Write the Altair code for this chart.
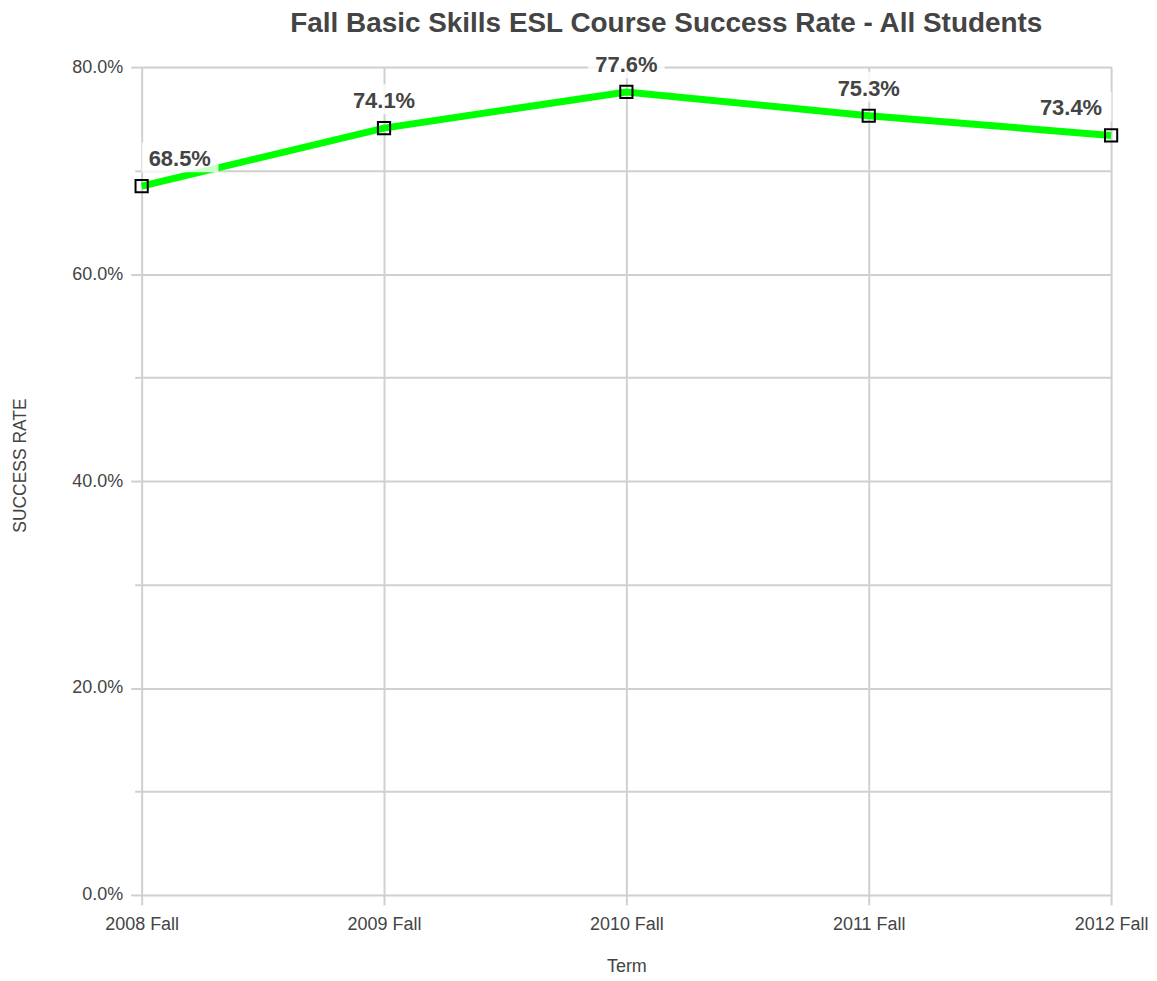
import altair as alt
import pandas as pd

terms = ["2008 Fall", "2009 Fall", "2010 Fall", "2011 Fall", "2012 Fall"]
rates = [0.685, 0.741, 0.776, 0.753, 0.734]
labels = ["68.5%", "74.1%", "77.6%", "75.3%", "73.4%"]
pos = ["left", "center", "center", "center", "right"]

df = pd.DataFrame({"term": terms, "rate": rates, "label": labels, "pos": pos})

FONT = "Liberation Sans"

x = alt.X("term:N", sort=terms, title="Term",
          scale=alt.Scale(type="point", padding=0),
          axis=alt.Axis(labelAngle=0, grid=True, gridColor="#d0d0d0", gridWidth=2,
                        tickColor="#d0d0d0", tickWidth=2, tickSize=10, domain=False,
                        labelFontSize=18, labelColor="#444", labelPadding=11,
                        titleFontSize=18, titleColor="#444", titleFontWeight="normal",
                        titlePadding=24, labelFont=FONT, titleFont=FONT))
y = alt.Y("rate:Q", title="SUCCESS RATE",
          scale=alt.Scale(domain=[0, 0.8], nice=False, zero=True),
          axis=alt.Axis(values=[0, 0.1, 0.2, 0.3, 0.4, 0.5, 0.6, 0.7, 0.8],
                        labelExpr="round(datum.value*10) % 2 == 0 ? format(datum.value, '.1%') : ''",
                        grid=True, gridColor="#d0d0d0", gridWidth=2,
                        tickColor="#d0d0d0", tickWidth=2,
                        tickSize={"condition": {"test": "round(datum.value*10) % 2 == 0", "value": 11}, "value": 7},
                        domain=False, labelFontSize=18, labelColor="#444", labelPadding=8,
                        titleFontSize=17.5, titleColor="#444", titleFontWeight="normal",
                        titlePadding=42, titleY=399, labelFont=FONT, titleFont=FONT))

base = alt.Chart(df).encode(x=x, y=y)

line = base.mark_line(color="#00ff00", strokeWidth=7, clip=False)
pts = base.mark_point(shape="square", size=150, filled=False, color="black", strokeWidth=2, opacity=1, clip=False)

def lbl(p, dx, align, box_off):
    sub = base.transform_filter(alt.datum.pos == p)
    box = sub.mark_rect(width=77, height=30, color="white", opacity=0.8,
                        xOffset=box_off, yOffset=-29)
    txt = sub.mark_text(dx=dx, dy=-27, align=align, baseline="middle", fontSize=22,
                        fontWeight="bold", color="#444", font=FONT).encode(text="label:N")
    return box + txt

chart = alt.layer(
    line, pts,
    lbl("left", 7, "left", 38.5),
    lbl("center", 0, "center", 0),
    lbl("right", -9, "right", -38),
).properties(
    width=972, height=830,
    title=alt.Title("Fall Basic Skills ESL Course Success Rate - All Students", fontSize=28,
                    fontWeight="bold", color="#444", font=FONT, anchor="middle", dx=40, offset=10)
).configure_view(stroke=None).configure(padding={"left": 3, "top": 0, "right": 0, "bottom": 0})

chart.save("out.html", embed_options={"renderer": "svg", "actions": False})
